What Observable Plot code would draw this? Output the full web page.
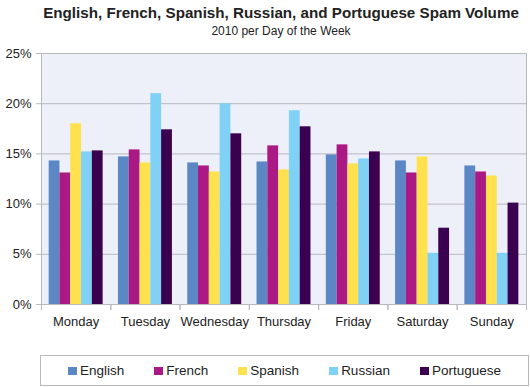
<!DOCTYPE html>
<html>
<head>
<meta charset="utf-8">
<script src="https://cdn.jsdelivr.net/npm/d3@7"></script>
<script src="https://cdn.jsdelivr.net/npm/@observablehq/plot@0.6"></script>
<style>
  html, body { margin: 0; padding: 0; background: #fff; }
  #wrap { position: relative; width: 530px; height: 387px; font-family: "Liberation Sans", Arial, sans-serif; color: #222; }
  #title { position: absolute; left: 0; top: 5px; width: 562px; text-align: center; font-weight: bold; font-size: 15.2px; line-height: 1; white-space: nowrap; }
  #subtitle { position: absolute; left: 0; top: 25px; width: 562px; text-align: center; font-size: 12px; line-height: 1; white-space: nowrap; }
  #chart { position: absolute; left: 0; top: 0; }
  #legend { position: absolute; left: 40px; top: 355px; width: 487px; height: 29px; border: 1px solid #b8b8be; display: flex; justify-content: center; align-items: center; gap: 30px; font-size: 13.5px; }
  .item { display: flex; align-items: center; }
  .sw { width: 9px; height: 8px; margin-right: 3px; }
</style>
</head>
<body>
<div id="wrap">
  <div id="chart"></div>
  <div id="title">English, French, Spanish, Russian, and Portuguese Spam Volume</div>
  <div id="subtitle">2010 per Day of the Week</div>
  <div id="legend"></div>
</div>
<script>
const days = ["Monday", "Tuesday", "Wednesday", "Thursday", "Friday", "Saturday", "Sunday"];
const languages = ["English", "French", "Spanish", "Russian", "Portuguese"];
const english    = [14.3, 14.7, 14.1, 14.2, 14.9, 14.3, 13.8];
const french     = [13.1, 15.4, 13.8, 15.8, 15.9, 13.1, 13.2];
const spanish    = [18.0, 14.1, 13.2, 13.4, 14.0, 14.7, 12.8];
const russian    = [15.2, 21.0, 20.0, 19.3, 14.5, 5.1, 5.1];
const portuguese = [15.3, 17.4, 17.0, 17.7, 15.2, 7.6, 10.1];
const colors = ["#5b87c5", "#ab1a84", "#ffe04d", "#80d1f6", "#3c0050"];
const yTicks = [0, 5, 10, 15, 20, 25];

const series = [english, french, spanish, russian, portuguese];
const data = days.flatMap((d, i) => languages.map((l, j) => ({day: d, lang: l, value: series[j][i]})));

const lineColor = "#b8b8be";
const H = 345, MT = 53, MB = 41;
const panelH = H - MT - MB;

const chart = Plot.plot({
  width: 530,
  height: H,
  marginTop: MT,
  marginBottom: MB,
  marginLeft: 41,
  marginRight: 4,
  style: {fontFamily: "Liberation Sans, Arial, sans-serif", fontSize: "13px", color: "#222", background: "transparent"},
  fx: {domain: days, padding: 0, round: false, label: null},
  x: {domain: languages, axis: null, paddingInner: 0, paddingOuter: 0.71, round: false},
  y: {domain: [0, 25], label: null},
  color: {domain: languages, range: colors},
  marks: [
    Plot.frame({fill: "#eef0f9", stroke: "none", facet: "super"}),
    Plot.gridY({ticks: yTicks, stroke: lineColor, strokeOpacity: 1}),
    Plot.barY(data, {fx: "day", x: "lang", y: "value", fill: "lang"}),
    Plot.frame({stroke: lineColor, facet: "super"}),
    Plot.frame({anchor: "left", stroke: lineColor, insetTop: panelH, insetBottom: -5}),
    Plot.frame({anchor: "right", stroke: lineColor, insetTop: panelH, insetBottom: -5}),
    Plot.axisY({ticks: yTicks, tickSize: 5, tickPadding: 5, tickFormat: d => d + "%", stroke: lineColor, fill: "#222", fontSize: 13}),
    Plot.axisFx({anchor: "bottom", tickSize: 0, tickPadding: 12, fill: "#222", fontSize: 13})
  ]
});
document.getElementById("chart").appendChild(chart);

const legend = document.getElementById("legend");
languages.forEach((l, i) => {
  const item = document.createElement("div");
  item.className = "item";
  const sw = document.createElement("span");
  sw.className = "sw";
  sw.style.background = colors[i];
  const t = document.createElement("span");
  t.textContent = l;
  item.appendChild(sw);
  item.appendChild(t);
  legend.appendChild(item);
});
</script>
</body>
</html>
